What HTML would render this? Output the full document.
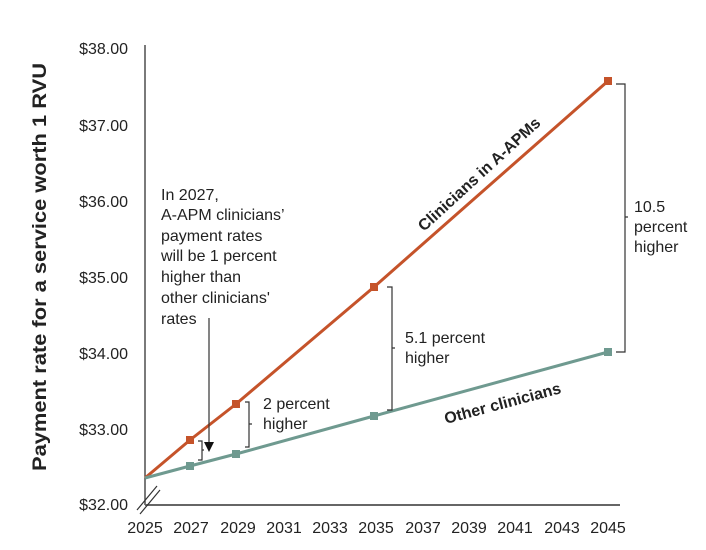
<!DOCTYPE html><html><head><style>body{margin:0;background:#fff}svg{display:block}text{font-family:"Liberation Sans","DejaVu Sans",sans-serif;fill:#222}</style></head><body>
<svg width="706" height="550" viewBox="0 0 706 550">
<g font-size="16" text-anchor="end">
<text x="128" y="54">$38.00</text><text x="128" y="131">$37.00</text><text x="128" y="207">$36.00</text><text x="128" y="283">$35.00</text><text x="128" y="359">$34.00</text><text x="128" y="435">$33.00</text><text x="128" y="510">$32.00</text>
</g>
<text transform="translate(46,267) rotate(-90)" text-anchor="middle" font-size="19" font-weight="bold" fill="#111" textLength="408" lengthAdjust="spacingAndGlyphs">Payment rate for a service worth 1 RVU</text>
<line x1="145" y1="45" x2="145" y2="505" stroke="#333" stroke-width="1.3"/>
<line x1="145" y1="505" x2="620" y2="505" stroke="#666" stroke-width="2"/>
<line x1="137" y1="510" x2="157" y2="486" stroke="#333" stroke-width="1.2"/><line x1="140" y1="514" x2="160" y2="490" stroke="#333" stroke-width="1.2"/>
<g font-size="16" text-anchor="middle">
<text x="145" y="533">2025</text><text x="191" y="533">2027</text><text x="238" y="533">2029</text><text x="284" y="533">2031</text><text x="330" y="533">2033</text><text x="376" y="533">2035</text><text x="423" y="533">2037</text><text x="469" y="533">2039</text><text x="515" y="533">2041</text><text x="562" y="533">2043</text><text x="608" y="533">2045</text>
</g>
<polyline points="145,478 190,440 236,404 374,287 608,81" fill="none" stroke="#c5532a" stroke-width="3"/>
<polyline points="145,478 190,466 236,454 374,416 608,352" fill="none" stroke="#6f9a90" stroke-width="3"/>
<g fill="#c5532a"><rect x="186" y="436" width="8" height="8"/><rect x="232" y="400" width="8" height="8"/><rect x="370" y="283" width="8" height="8"/><rect x="604" y="77" width="8" height="8"/></g>
<g fill="#6f9a90"><rect x="186" y="462" width="8" height="8"/><rect x="232" y="450" width="8" height="8"/><rect x="370" y="412" width="8" height="8"/><rect x="604" y="348" width="8" height="8"/></g>
<g fill="none" stroke="#333" stroke-width="1.2">
<path d="M198,441 h4 v9 h2 h-2 v10 h-4"/>
<path d="M245,402 h4 v22 h3 h-3 v23 h-4"/>
<path d="M387,287 h5 v61 h3 h-3 v62 h-5"/>
<path d="M616,84 h9 v133 h3 h-3 v135 h-9"/>
<line x1="209" y1="318" x2="209" y2="442"/>
</g>
<polygon points="204,442 214,442 209,452" fill="#111"/>
<g font-size="16">
<text x="161" y="200">In 2027,</text><text x="161" y="220">A-APM clinicians’</text><text x="161" y="241">payment rates</text><text x="161" y="261">will be 1 percent</text><text x="161" y="282">higher than</text><text x="161" y="303">other clinicians'</text><text x="161" y="324">rates</text>
<text x="263" y="409">2 percent</text><text x="263" y="429">higher</text>
<text x="405" y="343">5.1 percent</text><text x="405" y="363">higher</text>
<text x="634" y="212">10.5</text><text x="634" y="232">percent</text><text x="634" y="252">higher</text>
</g>
<text transform="translate(424,232) rotate(-42.5)" font-size="16" font-weight="bold" fill="#111">Clinicians in A-APMs</text>
<text transform="translate(446,424) rotate(-15)" font-size="16" font-weight="bold" fill="#111">Other clinicians</text>
</svg></body></html>
